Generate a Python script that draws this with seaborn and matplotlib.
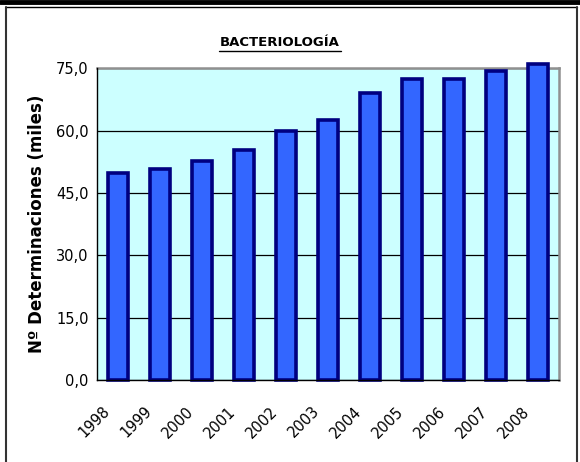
import numpy as np
import pandas as pd
import matplotlib
matplotlib.use('Agg')
import matplotlib.pyplot as plt
from matplotlib.ticker import FixedLocator, FuncFormatter
from matplotlib.lines import Line2D
import seaborn as sns

# data
years = ['1998', '1999', '2000', '2001', '2002', '2003', '2004', '2005', '2006', '2007', '2008']
determinaciones = [49.9, 50.8, 52.6, 55.3, 60.0, 62.5, 69.1, 72.4, 72.4, 74.4, 75.9]
y_ticks = [0, 15, 30, 45, 60, 75]

df = pd.DataFrame({'year': years, 'value': determinaciones})

sns.set_style('white')
plt.rcParams['font.family'] = ['DejaVu Sans']
plt.rcParams['text.color'] = 'black'
plt.rcParams['axes.labelcolor'] = 'black'
plt.rcParams['xtick.color'] = 'black'
plt.rcParams['ytick.color'] = 'black'

fig = plt.figure(figsize=(5.8, 4.62), dpi=100)
ax = fig.add_axes([0.167, 0.1775, 0.797, 0.675])
ax.set_facecolor('#CCFFFF')

sns.barplot(data=df, x='year', y='value', ax=ax, color='#3366FF', saturation=1,
            edgecolor='#000080', linewidth=2.6, width=0.48, zorder=3)
for p in ax.patches:
    p.set_clip_on(False)

ax.set_xlim(-0.5, len(years) - 0.5)
ax.set_ylim(0, 75)
ax.set_yticks(y_ticks)
ax.yaxis.set_major_formatter(FuncFormatter(lambda v, p: f'{v:.1f}'.replace('.', ',')))
ax.grid(axis='y', color='black', linewidth=0.9, zorder=1)
ax.set_axisbelow(True)

# ticks at category boundaries, labels near centres
ax.xaxis.set_major_locator(FixedLocator(np.arange(-0.5, len(years), 1.0)))
ax.xaxis.set_minor_locator(FixedLocator(np.arange(len(years)) - 0.38))
ax.set_xticklabels([''] * len(ax.get_xticks()))
ax.set_xticklabels(years, minor=True, rotation=45, ha='right', rotation_mode='anchor')
ax.tick_params(axis='x', which='major', direction='inout', length=8, width=1, color='black')
ax.tick_params(axis='x', which='minor', length=0, pad=17, labelsize=10.5)
ax.tick_params(axis='y', direction='inout', length=8, width=1, color='black', labelsize=10.5, pad=2)

ax.set_xlabel('')
ax.set_ylabel('Nº Determinaciones (miles)', fontsize=12, fontweight='bold', labelpad=7)

for s in ['left', 'bottom']:
    ax.spines[s].set_color('black')
    ax.spines[s].set_linewidth(1)
for s in ['top', 'right']:
    ax.spines[s].set_color('#909090')
    ax.spines[s].set_linewidth(1.8)
ax.spines['left'].set_zorder(4)
ax.spines['bottom'].set_zorder(4)

fig.text(0.483, 0.907, 'BACTERIOLOGÍA', ha='center', va='center', fontsize=9.5,
         fontweight='bold')
# underline for title
fig.add_artist(Line2D([0.378, 0.588], [0.889, 0.889], color='black', linewidth=1))

# outer frame like the source document
fig.add_artist(Line2D([0, 1], [0.996, 0.996], color='black', linewidth=3.5))
fig.add_artist(Line2D([0.011, 0.995], [0.985, 0.985], color='black', linewidth=1))
fig.add_artist(Line2D([0.011, 0.011], [0, 0.985], color='#333333', linewidth=1.5))
fig.add_artist(Line2D([0.995, 0.995], [0, 0.985], color='#333333', linewidth=1.5))

fig.savefig('out.png', dpi=100)
